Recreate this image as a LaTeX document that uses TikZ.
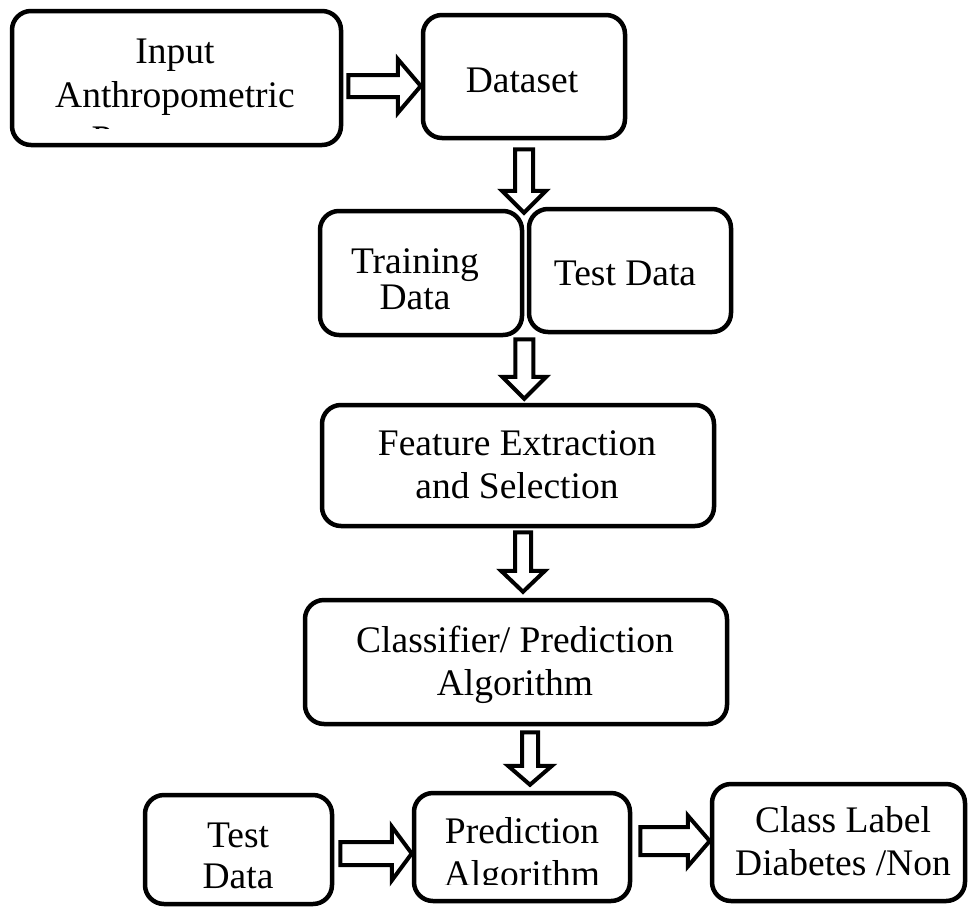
\documentclass[tikz,border=0pt]{standalone}
\usepackage{fontspec}
\setmainfont{Liberation Serif}
\usetikzlibrary{calc}
\newcommand\mylines[1]{\begin{tabular}[t]{@{}c@{}}#1\end{tabular}}
\newcommand\hollowright[5]{\draw[hollow] let \p1=#1, \p2=#2 in
  (\x1,\y1-#3) -- (\x2-#5,\y1-#3) -- (\x2-#5,\y1-#4) -- (\x2,\y1) --
  (\x2-#5,\y1+#4) -- (\x2-#5,\y1+#3) -- (\x1,\y1+#3) -- cycle;}
\newcommand\hollowdown[5]{\draw[hollow] let \p1=#1, \p2=#2 in
  (\x1-#3,\y1) -- (\x1-#3,\y2+#5) -- (\x1-#4,\y2+#5) -- (\x1,\y2) --
  (\x1+#4,\y2+#5) -- (\x1+#3,\y2+#5) -- (\x1+#3,\y1) -- cycle;}
\tikzset{
  box/.style={draw, line width=4.5pt, rounded corners=19pt, fill=white, inner sep=0pt},
  hollow/.style={draw, line width=4pt, fill=white, line join=miter},
  txt/.style={anchor=base, inner sep=0pt, font=\fontsize{37.5}{43}\selectfont},
}
\begin{document}
\begin{tikzpicture}[x=1pt, y=-1pt]
\useasboundingbox (0,0) rectangle (970,906);
\clip (0,0) rectangle (970,906);
% boxes
\node[box, minimum width=329pt, minimum height=134pt] (in)  at (176.5,78) {};
\node[box, minimum width=202pt, minimum height=123pt] (ds)  at (524,76.5) {};
\node[box, minimum width=202pt, minimum height=124pt] (tr)  at (421,273) {};
\node[box, minimum width=202pt, minimum height=123pt] (te)  at (630,270.5) {};
\node[box, minimum width=392pt, minimum height=121pt] (fe)  at (518,465.5) {};
\node[box, minimum width=422pt, minimum height=124pt] (cl)  at (516,662) {};
\node[box, minimum width=187pt, minimum height=109pt] (tb)  at (238.5,849.5) {};
\node[box, minimum width=216pt, minimum height=108pt] (pr)  at (522,847) {};
\node[box, minimum width=253pt, minimum height=117pt] (cla) at (838.5,842.5) {};
% texts
\begin{scope}
  \clip (0,0) rectangle (970,128);
  \node[txt, font=\fontsize{37.5}{44}\selectfont] (tin) at (175,63) {\mylines{Input\\Anthropometric\\Parameters}};
\end{scope}
\node[txt] (tds) at (522,92) {Dataset};
\node[txt, font=\fontsize{37.5}{36}\selectfont] (ttr) at (415,273) {\mylines{Training\\Data}};
\node[txt] (tte) at (625,285) {Test Data};
\node[txt] (tfe) at (517,455) {\mylines{Feature Extraction\\and Selection}};
\node[txt] (tcl) at (515,652) {\mylines{Classifier/ Prediction\\Algorithm}};
\node[txt, font=\fontsize{37.5}{41}\selectfont] (ttb) at (238,847) {\mylines{Test\\Data}};
\begin{scope}
  \clip (0,800) rectangle (970,884);
  \node[txt] (tpr) at (522,843) {\mylines{Prediction\\Algorithm}};
\end{scope}
\node[txt] (tcla) at (843,832) {\mylines{Class Label\\Diabetes /Non}};
% hollow block arrows
\hollowright{($(in.east)+(5,8)$)}{(ds.west)}{11pt}{27pt}{23pt}
\hollowdown{($(ds.south)+(0,9)$)}{($(tr.north east)+(0,4)$)}{9pt}{22pt}{22pt}
\hollowdown{($(tr.south east)+(0,2)$)}{($(fe.north)+(0,-4)$)}{9pt}{22pt}{22pt}
\hollowdown{($(fe.south)+(5,4)$)}{($(cl.north)+(0,-6)$)}{8pt}{22pt}{21pt}
\hollowdown{($(cl.south)+(14,6)$)}{($(pr.north)+(0,-6)$)}{8pt}{22pt}{19pt}
\hollowright{($(tb.east)+(6,4)$)}{(pr.west)}{11.5pt}{27pt}{20pt}
\hollowright{($(pr.east)+(8,-6)$)}{(cla.west)}{14pt}{25.5pt}{22pt}
\end{tikzpicture}
\end{document}
